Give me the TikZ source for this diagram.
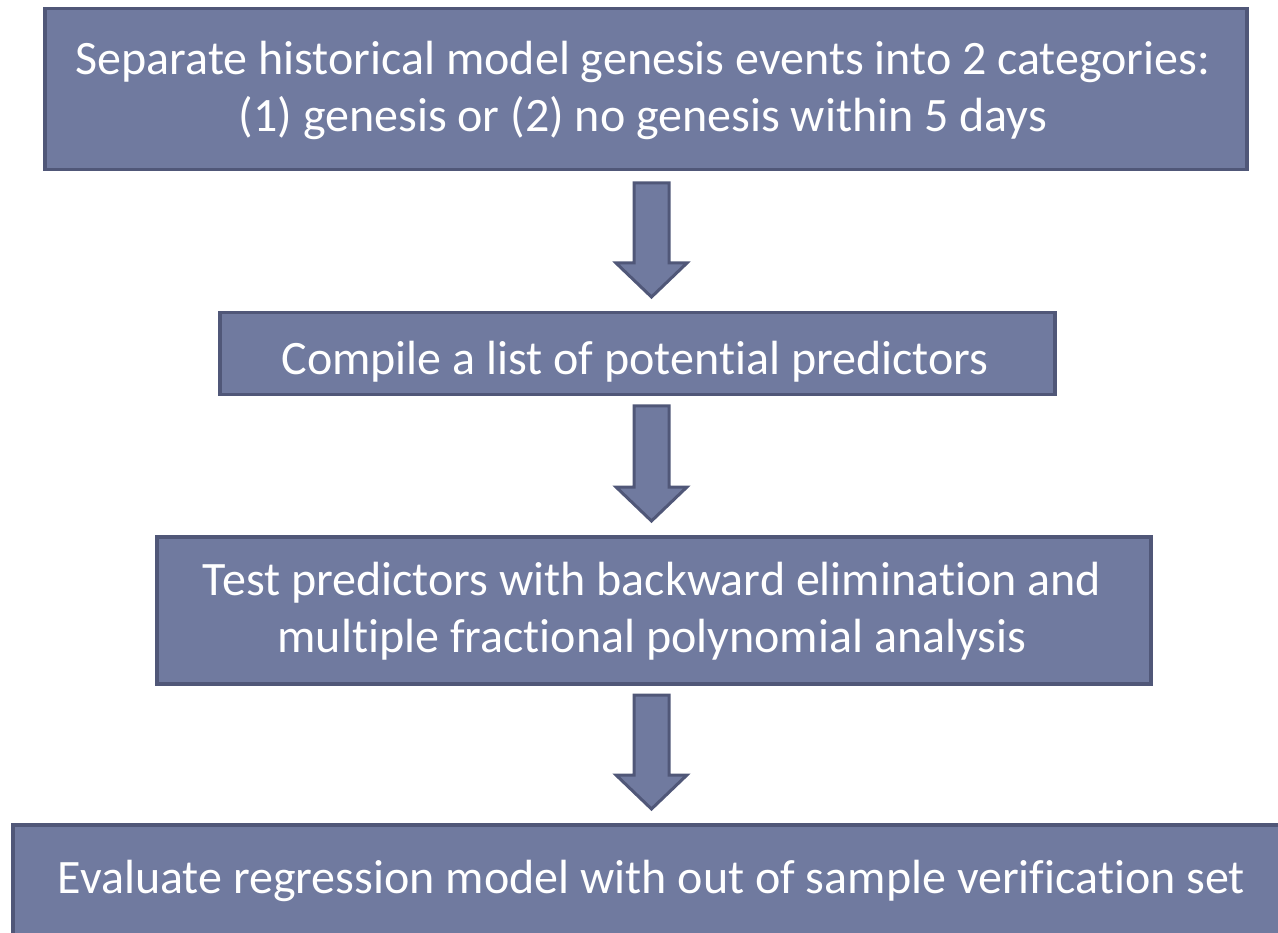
\documentclass[tikz,border=0pt]{standalone}
\usepackage{fontspec}
\setmainfont{Carlito}[Ligatures=NoCommon]
\usetikzlibrary{calc}
\definecolor{boxfill}{RGB}{112,122,159}
\definecolor{boxline}{RGB}{80,87,120}
\begin{document}
\begin{tikzpicture}[x=1pt,y=-1pt,
  stepbox/.style={draw=boxline, fill=boxfill, line width=3.5pt, rectangle, inner sep=0pt, anchor=north west},
  steptext/.style={text=white, font=\fontsize{48}{57}\selectfont, align=center, inner sep=0pt, anchor=base},
  blockarrow/.style={draw=boxline, fill=boxfill, line width=3pt, line join=miter}
]
\useasboundingbox (0,0) rectangle (1278,933);
\clip (0,0) rectangle (1278,933);

% boxes
\node[stepbox, minimum width=1202pt, minimum height=161pt] (b1) at (43,7) {};
\node[stepbox, minimum width=835pt, minimum height=82pt] (b2) at (218,311) {};
\node[stepbox, minimum width=994pt, minimum height=147pt] (b3) at (155,535) {};
\node[stepbox, minimum width=1300pt, minimum height=150pt] (b4) at (11,823) {};

% labels
\node[steptext] (t1a) at (643,75) {Separate historical model genesis events into 2 categories:};
\node[steptext] (t1b) at (643,132) {(1) genesis or (2) no genesis within 5 days};
\node[steptext] (t2) at (635,375) {Compile a list of potential predictors};
\node[steptext] (t3a) at (652,595) {Test predictors with backward elimination and};
\node[steptext] (t3b) at (652,652) {multiple fractional polynomial analysis};
\node[steptext] (t4) at (651.5,893) {Evaluate regression model with out of sample verification set};

% block arrows between the boxes: shaft 35 wide, head 71 wide and 34 long
\newcommand{\blockdown}[2]{%
  \draw[blockarrow] ($(#1)+(-17.5,0)$) -- ($(#2)+(-17.5,-34)$) -- ($(#2)+(-35.5,-34)$)
    -- (#2) -- ($(#2)+(35.5,-34)$) -- ($(#2)+(17.5,-34)$) -- ($(#1)+(17.5,0)$) -- cycle;}
\coordinate (a1s) at (651.5,183);
\coordinate (a1e) at (651.5,297);
\coordinate (a2s) at (651.5,406);
\coordinate (a2e) at (651.5,521);
\coordinate (a3s) at (651.5,695);
\coordinate (a3e) at (651.5,809);
\blockdown{a1s}{a1e}
\blockdown{a2s}{a2e}
\blockdown{a3s}{a3e}
\end{tikzpicture}
\end{document}
